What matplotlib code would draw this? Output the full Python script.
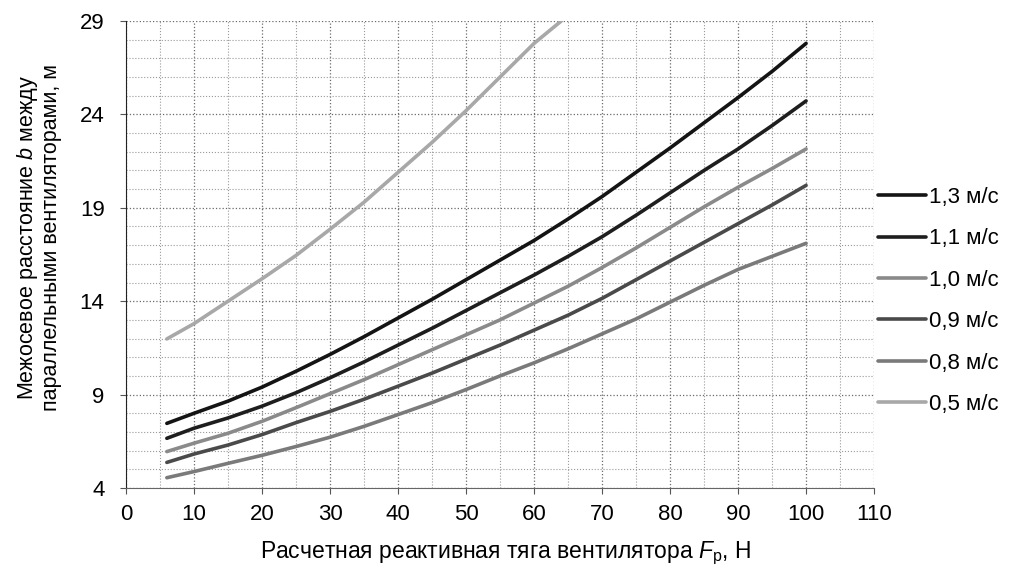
import numpy as np
import matplotlib
matplotlib.use('Agg')
import matplotlib.pyplot as plt
from matplotlib.ticker import MultipleLocator

plt.rcParams['font.family'] = ['Liberation Sans', 'DejaVu Sans']
plt.rcParams['mathtext.fontset'] = 'custom'
plt.rcParams['mathtext.rm'] = 'Liberation Sans'
plt.rcParams['mathtext.it'] = 'Liberation Sans:italic'

# тяга вентилятора, Н
F = [6, 10, 15, 20, 25, 30, 35, 40, 45, 50, 55, 60, 65, 70, 75, 80, 85, 90, 95, 100]
b_13 = [7.46, 8.0, 8.65, 9.4, 10.25, 11.15, 12.1, 13.1, 14.1, 15.15, 16.2, 17.25,
        18.4, 19.6, 20.9, 22.2, 23.55, 24.9, 26.3, 27.8]
b_11 = [6.66, 7.2, 7.75, 8.38, 9.1, 9.9, 10.75, 11.65, 12.55, 13.5, 14.45, 15.4,
        16.4, 17.45, 18.6, 19.8, 21.0, 22.15, 23.4, 24.72]
b_10 = [5.95, 6.4, 6.93, 7.57, 8.3, 9.05, 9.8, 10.6, 11.4, 12.2, 13.0, 13.9,
        14.8, 15.8, 16.85, 17.95, 19.05, 20.1, 21.1, 22.15]
b_09 = [5.37, 5.82, 6.3, 6.86, 7.5, 8.1, 8.75, 9.45, 10.15, 10.9, 11.65, 12.45,
        13.25, 14.15, 15.15, 16.15, 17.15, 18.15, 19.15, 20.2]
b_08 = [4.55, 4.88, 5.32, 5.75, 6.22, 6.72, 7.3, 7.93, 8.57, 9.27, 10.0, 10.7,
        11.45, 12.25, 13.05, 13.95, 14.85, 15.7, 16.4, 17.1]

# кривая 0,5 м/с уходит за верх графика
F_05 = [6, 10, 15, 20, 25, 30, 35, 40, 45, 50, 55, 60, 64]
b_05 = [11.98, 12.8, 14.0, 15.2, 16.45, 17.85, 19.3, 20.9, 22.5, 24.2, 26.0, 27.8, 29.0]

labels = ['1,3 м/с', '1,1 м/с', '1,0 м/с', '0,9 м/с', '0,8 м/с', '0,5 м/с']
colors = ['#141414', '#1e1e1e', '#8a8a8a', '#4a4a4a', '#7a7a7a', '#a8a8a8']

y_ticks = [4, 9, 14, 19, 24, 29]

fig = plt.figure(figsize=(10.14, 5.75), dpi=100)
ax = fig.add_axes([0.1243, 0.1513, 0.7377, 0.8122])

series = [(F, b_13), (F, b_11), (F, b_10), (F, b_09), (F, b_08), (F_05, b_05)]
for (x, y), lab, c in zip(series, labels, colors):
    ax.plot(x, y, color=c, lw=2.6, label=lab, solid_capstyle='round')

ax.set_xlim(0, 110)
ax.set_ylim(4, 29)
ax.xaxis.set_major_locator(MultipleLocator(10))
ax.xaxis.set_minor_locator(MultipleLocator(5))
ax.set_yticks(y_ticks)
ax.set_yticks(range(4, 30), minor=True)

ax.grid(which='major', color='#6a6a6a', ls=':', lw=0.9)
ax.grid(which='minor', color='#9a9a9a', ls=':', lw=0.8)
ax.set_axisbelow(True)

for s in ['top', 'right']:
    ax.spines[s].set_visible(False)
ax.spines['left'].set_color('#222222')
ax.spines['bottom'].set_color('#666666')

ax.tick_params(which='major', direction='out', length=4.5, width=0.8,
               color='#555555', labelsize=16)
ax.tick_params(axis='x', which='major', pad=7)
ax.tick_params(axis='y', which='major', pad=11)
ax.tick_params(which='minor', length=0)

ax.set_xlabel('Расчетная реактивная тяга вентилятора $F_{\\mathrm{р}}$, Н', fontsize=16.5)
ax.set_ylabel('Межосевое расстояние $b$ между\nпараллельными вентиляторами, м',
              fontsize=15.5, linespacing=1.1)
ax.xaxis.set_label_coords(0.507, -0.111)
ax.yaxis.set_label_coords(-0.085, 0.537)

fig.legend(loc='center left', bbox_to_anchor=(0.866, 0.4765), frameon=False,
           fontsize=16, handlelength=2.15, handletextpad=0.15, labelspacing=0.92,
           borderpad=0, borderaxespad=0)

fig.savefig('out.png', dpi=100)
